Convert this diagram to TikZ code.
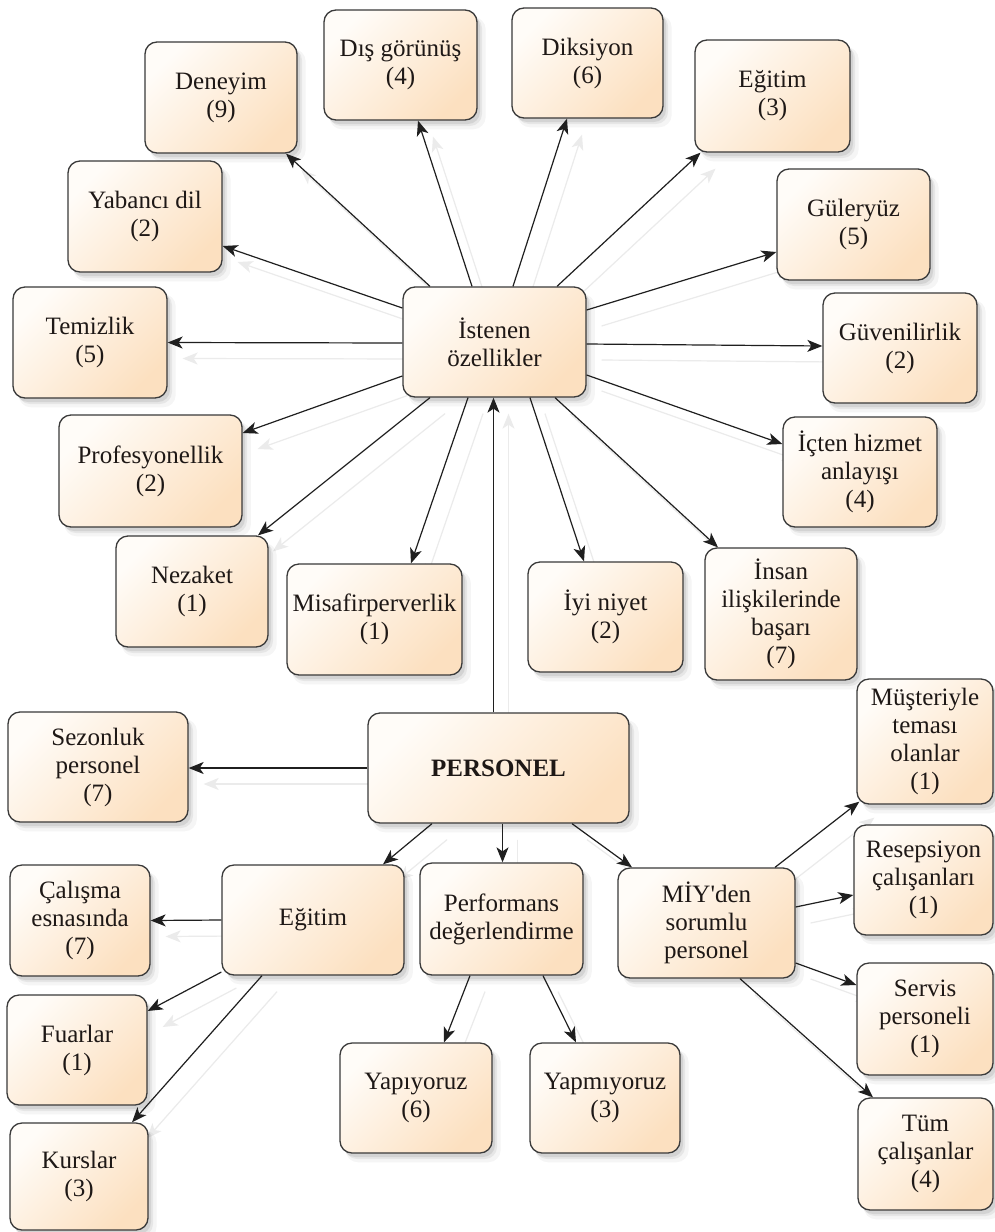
\documentclass[tikz,border=0pt]{standalone}
\usepackage{fontspec}
\setmainfont{Liberation Serif}
\usetikzlibrary{arrows.meta,shadows}

\definecolor{boxlight}{RGB}{255,252,248}
\definecolor{boxdark}{RGB}{252,224,192}
\definecolor{boxline}{RGB}{58,58,58}
\definecolor{txt}{RGB}{30,24,22}

\pgfdeclarelayer{back}
\pgfdeclarelayer{shade}
\pgfsetlayers{back,shade,main}

\tikzset{
  softshadow/.style={
    drop shadow={shadow xshift=7pt, shadow yshift=-8pt, shadow scale=1.02,
      fill=black, opacity=0.04},
    drop shadow={shadow xshift=5pt, shadow yshift=-6pt, fill=black, opacity=0.06},
    drop shadow={shadow xshift=3pt, shadow yshift=-4pt, fill=black, opacity=0.08}},
  box/.style={draw=boxline, line width=1.3pt, rounded corners=12pt,
    align=center, inner sep=0pt, text=txt,
    font=\fontsize{25pt}{28pt}\selectfont,
    top color=boxlight, bottom color=boxdark, shading angle=45,
    softshadow},
  arr/.style={draw=black!88, line width=1.2pt,
    -{Stealth[length=15pt,width=12pt,inset=4pt]}},
  arrshadow/.style={arr, draw=black!8, fill=black!8,
    transform canvas={xshift=15pt, yshift=-16pt}}
}

% box: name, x, y, width, height, text
\newcommand\boxnode[6]{%
  \node[box, minimum width=#4pt, minimum height=#5pt] (#1) at (#2,#3) {#6};}
% connector with its faint offset copy underneath
\newcommand\conn[2]{%
  \begin{pgfonlayer}{shade}\path[arrshadow] #1 -- #2;\end{pgfonlayer}%
  \draw[arr] #1 -- #2;}

\begin{document}
\begin{tikzpicture}[x=1pt, y=-1pt]
\begin{pgfonlayer}{back}
  \fill[white] (0,0) rectangle (995,1232);
\end{pgfonlayer}
\useasboundingbox (0,0) rectangle (995,1232);

% hub of desired qualities and its ring of answers
\boxnode{ist}{494.5}{342}{183}{110}{İstenen\\özellikler}
\boxnode{den}{221}{97.5}{152}{111}{Deneyim\\(9)}
\boxnode{dis}{400.5}{65}{153}{110}{Dış görünüş\\(4)}
\boxnode{dik}{587.5}{63}{151}{110}{Diksiyon\\(6)}
\boxnode{egta}{772.5}{96}{155}{112}{Eğitim\\(3)}
\boxnode{gul}{853.5}{224.5}{153}{111}{Güleryüz\\(5)}
\boxnode{guv}{900}{348}{154}{110}{Güvenilirlik\\(2)}
\boxnode{ict}{860}{472}{154}{110}{İçten hizmet\\anlayışı\\(4)}
\boxnode{ins}{781}{614}{152}{132}{İnsan\\ilişkilerinde\\başarı\\(7)}
\boxnode{iyi}{605.5}{617}{155}{110}{İyi niyet\\(2)}
\boxnode{mis}{374.5}{619.5}{175}{111}{Misafirperverlik\\(1)}
\boxnode{nez}{192}{591.5}{152}{111}{Nezaket\\(1)}
\boxnode{pro}{150.5}{471}{183}{112}{Profesyonellik\\(2)}
\boxnode{tem}{90}{342.5}{154}{111}{Temizlik\\(5)}
\boxnode{yab}{145}{216.5}{154}{111}{Yabancı dil\\(2)}

% staff and its branches
\boxnode{per}{498.5}{768}{261}{110}{\textbf{PERSONEL}}
\boxnode{sez}{98}{767}{180}{110}{Sezonluk\\personel\\(7)}
\boxnode{egt}{313}{920}{182}{110}{Eğitim}
\boxnode{perf}{501.5}{919}{163}{112}{Performans\\değerlendirme}
\boxnode{miy}{706.5}{923}{177}{110}{MİY\textquotesingle den\\sorumlu\\personel}
\boxnode{cal}{80}{920.5}{140}{111}{Çalışma\\esnasında\\(7)}
\boxnode{fua}{77}{1050}{140}{110}{Fuarlar\\(1)}
\boxnode{kur}{79}{1176.5}{138}{107}{Kurslar\\(3)}
\boxnode{yap}{416}{1098}{152}{110}{Yapıyoruz\\(6)}
\boxnode{yapm}{605}{1098}{150}{110}{Yapmıyoruz\\(3)}
\boxnode{mus}{925}{741.5}{136}{125}{Müşteriyle\\teması\\olanlar\\(1)}
\boxnode{res}{923.5}{880}{139}{110}{Resepsiyon\\çalışanları\\(1)}
\boxnode{ser}{925}{1019}{136}{112}{Servis\\personeli\\(1)}
\boxnode{tum}{925.5}{1154}{135}{112}{Tüm\\çalışanlar\\(4)}

% spokes out of the qualities hub
\conn{([xshift=-64.5pt]ist.north)}{([xshift=65pt]den.south)}
\conn{([xshift=-22.5pt]ist.north)}{([xshift=17.5pt]dis.south)}
\conn{([xshift=18.5pt]ist.north)}{([xshift=-20.5pt]dik.south)}
\conn{([xshift=62.5pt]ist.north)}{([xshift=-72pt]egta.south)}
\conn{([yshift=32pt]ist.east)}{([yshift=-27.5pt]gul.west)}
\conn{([yshift=-2pt]ist.east)}{([yshift=2pt]guv.west)}
\conn{([yshift=-33pt]ist.east)}{([yshift=28pt]ict.west)}
\conn{([xshift=60.5pt]ist.south)}{([xshift=-63pt]ins.north)}
\conn{([xshift=35.5pt]ist.south)}{([xshift=-21.5pt]iyi.north)}
\conn{([xshift=-26.5pt]ist.south)}{([xshift=36.5pt]mis.north)}
\conn{([xshift=-64.5pt]ist.south)}{([xshift=66pt]nez.north)}
\conn{([yshift=-34pt]ist.west)}{([yshift=38pt]pro.east)}
\conn{([yshift=-1pt]ist.west)}{(tem.east)}
\conn{([yshift=34pt]ist.west)}{([yshift=-29.5pt]yab.east)}

% staff connectors
\conn{([xshift=-5pt]per.north)}{([xshift=-1pt]ist.south)}
\conn{(per.west)}{([yshift=-1pt]sez.east)}
\conn{([xshift=-66.5pt]per.south)}{([xshift=70pt]egt.north)}
\conn{([xshift=4pt]per.south)}{([xshift=1pt]perf.north)}
\conn{([xshift=73.5pt]per.south)}{([xshift=-74.5pt]miy.north)}

% training
\conn{(egt.west)}{(cal.east)}
\conn{([yshift=-52pt]egt.west)}{([yshift=39pt]fua.east)}
\conn{([xshift=-51pt]egt.south)}{([xshift=53pt]kur.north)}

% performance appraisal
\conn{([xshift=-31.5pt]perf.south)}{([xshift=28pt]yap.north)}
\conn{([xshift=41.5pt]perf.south)}{([xshift=-29pt]yapm.north)}

% staff in charge of guest relations
\conn{([xshift=68.5pt]miy.north)}{([xshift=3pt,yshift=3pt]mus.south west)}
\conn{([yshift=16pt]miy.east)}{([yshift=-15pt]res.west)}
\conn{([yshift=-40pt]miy.east)}{([yshift=34pt]ser.west)}
\conn{([xshift=33.5pt]miy.south)}{([xshift=-52.5pt]tum.north)}
\end{tikzpicture}
\end{document}
